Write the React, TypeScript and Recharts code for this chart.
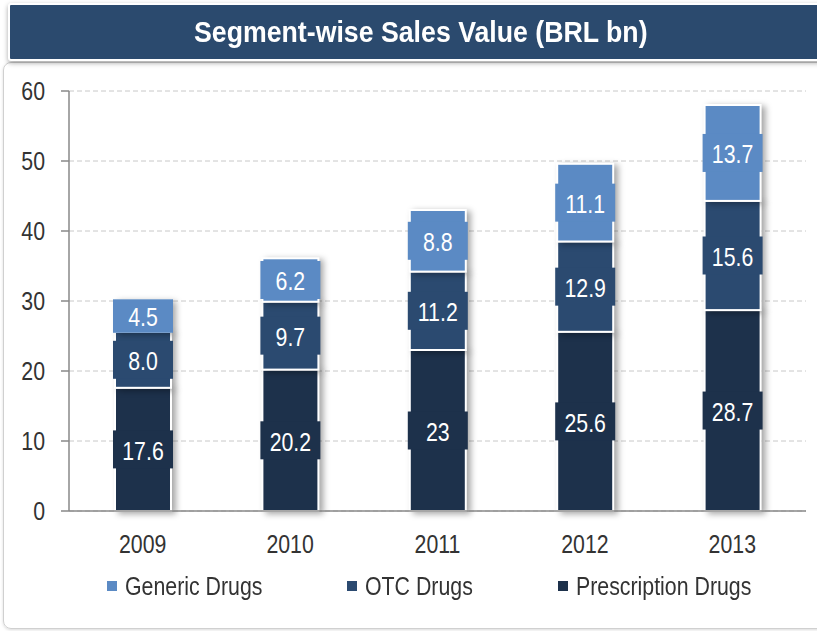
import { Bar, BarChart, CartesianGrid, LabelList, XAxis, YAxis } from 'recharts'

const years = ['2009', '2010', '2011', '2012', '2013']
const prescription = [17.6, 20.2, 23, 25.6, 28.7]
const otc = [8.0, 9.7, 11.2, 12.9, 15.6]
const generic = [4.5, 6.2, 8.8, 11.1, 13.7]
const yTicks = [0, 10, 20, 30, 40, 50, 60]

const GENERIC = '#5b8ac4'
const OTC = '#2b4a70'
const PRESC = '#1d314b'
const FONT = '"Liberation Sans", Arial, sans-serif'
const SX = 0.82

const data = years.map((year, i) => ({
  year,
  idx: i + 0.5,
  prescription: prescription[i],
  otc: otc[i],
  generic: generic[i],
}))

const fmt = (v: number) => (Number.isInteger(v) && v !== 23 ? v.toFixed(1) : String(v))

// narrow text: the reference uses a condensed face, so squeeze Liberation Sans
function NarrowText({ x, y, anchor, size, fill, children }: any) {
  return (
    <text
      x={0}
      y={0}
      transform={`translate(${x},${y}) scale(${SX},1)`}
      textAnchor={anchor}
      dominantBaseline="central"
      fontSize={size}
      fontFamily={FONT}
      fill={fill}
    >
      {children}
    </text>
  )
}

function SegLabel(color: string) {
  return (props: any) => {
    const { x, y, width, height, value } = props
    const bh = Math.min(38, height + 2)
    const cy = y + height / 2
    return (
      <g>
        <rect x={x - 2} y={cy - bh / 2} width={width + 4} height={bh} fill={color} />
        <NarrowText x={x + width / 2} y={cy + 1} anchor="middle" size={26} fill="#fff">
          {fmt(value)}
        </NarrowText>
      </g>
    )
  }
}

const seg = (color: string) => (props: any) => {
  const { x, y, width, height } = props
  return (
    <rect
      x={x}
      y={y}
      width={width}
      height={height}
      fill={color}
      stroke="#fff"
      strokeWidth={2}
      style={{ filter: 'drop-shadow(4px 2px 3px rgba(0,0,0,0.35))' }}
    />
  )
}

const YTick = (props: any) => (
  <NarrowText x={props.x} y={props.y} anchor="end" size={26} fill="#333">
    {props.payload.value}
  </NarrowText>
)

const XTick = (props: any) => (
  <NarrowText x={props.x} y={544} anchor="middle" size={26} fill="#333">
    {props.payload.value}
  </NarrowText>
)

const legendItems = [
  { name: 'Generic Drugs', color: GENERIC, left: 107 },
  { name: 'OTC Drugs', color: OTC, left: 347 },
  { name: 'Prescription Drugs', color: PRESC, left: 558 },
]

export default function App() {
  return (
    <div style={{ position: 'absolute', left: 0, top: 0, width: 817, height: 631, background: '#fff', overflow: 'hidden', fontFamily: FONT }}>
      <div
        style={{
          position: 'absolute',
          left: 3,
          top: 62,
          width: 830,
          height: 565,
          border: '1px solid #d0d0d0',
          borderRadius: 8,
          boxShadow: '0 1px 3px rgba(0,0,0,0.15)',
        }}
      />
      <div
        style={{
          position: 'absolute',
          left: 8,
          top: 3,
          width: 830,
          height: 54,
          background: '#2b4a6e',
          border: '2px solid #fff',
          borderRadius: 3,
          boxShadow: '0 2px 5px rgba(0,0,0,0.35)',
        }}
      />
      <div
        style={{
          position: 'absolute',
          left: 194,
          top: 5,
          height: 54,
          lineHeight: '54px',
          color: '#fff',
          fontWeight: 'bold',
          fontSize: 30,
          whiteSpace: 'nowrap',
          transform: 'scaleX(0.89)',
          transformOrigin: '0 0',
        }}
      >
        Segment-wise Sales Value (BRL bn)
      </div>
      <div style={{ position: 'absolute', left: 0, top: 0 }}>
        <BarChart width={817} height={631} data={data} margin={{ top: 91, right: 11, left: 8, bottom: 80 }}>
          <CartesianGrid vertical={false} stroke="#c8c8c8" strokeDasharray="5 3" />
          <XAxis
            xAxisId="b"
            type="number"
            dataKey="idx"
            domain={[0, 5]}
            ticks={[0, 1, 2, 3, 4, 5]}
            tick={false}
            axisLine={false}
            tickLine={{ stroke: '#888', strokeWidth: 1.5 }}
            tickSize={7}
            height={0}
            allowDataOverflow
          />
          <XAxis
            xAxisId="cat"
            dataKey="year"
            axisLine={{ stroke: '#888', strokeWidth: 1.5 }}
            tickLine={false}
            tickSize={0}
            tick={XTick}
            height={40}
          />
          <YAxis
            domain={[0, 60]}
            ticks={yTicks}
            width={61}
            axisLine={{ stroke: '#888', strokeWidth: 1.5 }}
            tickLine={{ stroke: '#888', strokeWidth: 1.5 }}
            tickSize={8}
            tickMargin={16}
            tick={YTick}
          />
          <Bar xAxisId="cat" dataKey="prescription" stackId="s" barSize={56} shape={seg(PRESC)} isAnimationActive={false}>
            <LabelList dataKey="prescription" content={SegLabel(PRESC)} />
          </Bar>
          <Bar xAxisId="cat" dataKey="otc" stackId="s" barSize={56} shape={seg(OTC)} isAnimationActive={false}>
            <LabelList dataKey="otc" content={SegLabel(OTC)} />
          </Bar>
          <Bar xAxisId="cat" dataKey="generic" stackId="s" barSize={56} shape={seg(GENERIC)} isAnimationActive={false}>
            <LabelList dataKey="generic" content={SegLabel(GENERIC)} />
          </Bar>
        </BarChart>
      </div>
      {legendItems.map((l) => (
        <div key={l.name} style={{ position: 'absolute', left: l.left, top: 571, display: 'flex', alignItems: 'center', height: 30 }}>
          <span style={{ width: 10, height: 10, background: l.color, marginRight: 8, display: 'inline-block' }} />
          <span
            style={{
              fontSize: 26,
              color: '#333',
              whiteSpace: 'nowrap',
              display: 'inline-block',
              transform: `scaleX(${SX})`,
              transformOrigin: '0 50%',
            }}
          >
            {l.name}
          </span>
        </div>
      ))}
    </div>
  )
}
